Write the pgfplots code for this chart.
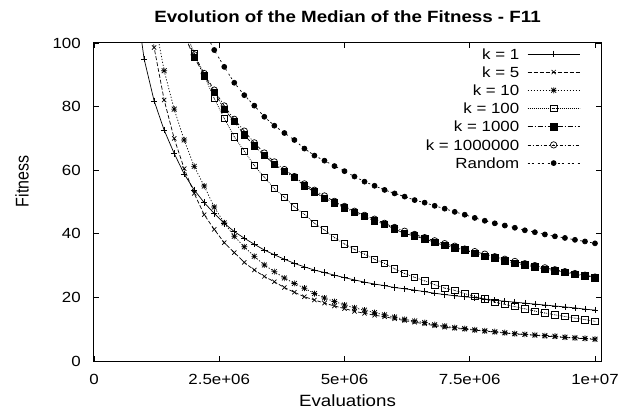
\documentclass[border=0pt]{standalone}
\usepackage{fontspec}
\setmainfont{Liberation Sans}
\newfontfamily\tfont{Liberation Sans}[FakeStretch=1.15]
\newfontfamily\yfont{Liberation Sans}[FakeStretch=0.87]
\usepackage{pgfplots}
\usepackage{pgfplotstable}
\pgfplotsset{compat=1.18}

% gnuplot-like point types
\pgfdeclareplotmark{star8}{%
  \pgfpathmoveto{\pgfqpoint{-\pgfplotmarksize}{0pt}}\pgfpathlineto{\pgfqpoint{\pgfplotmarksize}{0pt}}%
  \pgfpathmoveto{\pgfqpoint{0pt}{-\pgfplotmarksize}}\pgfpathlineto{\pgfqpoint{0pt}{\pgfplotmarksize}}%
  \pgfpathmoveto{\pgfqpoint{-.8\pgfplotmarksize}{-.8\pgfplotmarksize}}\pgfpathlineto{\pgfqpoint{.8\pgfplotmarksize}{.8\pgfplotmarksize}}%
  \pgfpathmoveto{\pgfqpoint{-.8\pgfplotmarksize}{.8\pgfplotmarksize}}\pgfpathlineto{\pgfqpoint{.8\pgfplotmarksize}{-.8\pgfplotmarksize}}%
  \pgfusepathqstroke}
\pgfdeclareplotmark{sqdot}{%
  \pgfpathrectangle{\pgfqpoint{-\pgfplotmarksize}{-\pgfplotmarksize}}{\pgfqpoint{2\pgfplotmarksize}{2\pgfplotmarksize}}%
  \pgfusepathqstroke
  \pgfpathcircle{\pgfpointorigin}{0.5pt}\pgfusepathqfill}
\pgfdeclareplotmark{circdot}{%
  \pgfpathcircle{\pgfpointorigin}{\pgfplotmarksize}\pgfusepathqstroke
  \pgfpathcircle{\pgfpointorigin}{0.5pt}\pgfusepathqfill}

% evaluations in millions, median fitness
\pgfplotstableread{
x y
0.8 118
1.0 95.0
1.2 81.8
1.4 72.6
1.6 65.3
1.8 58.8
2.0 53.8
2.2 49.8
2.4 46.4
2.6 43.3
2.8 40.7
3.0 38.6
3.2 36.7
3.4 34.9
3.6 33.4
3.8 32.0
4.0 30.7
4.2 29.6
4.4 28.6
4.6 27.8
4.8 27.0
5.0 26.2
5.2 25.5
5.4 24.8
5.6 24.2
5.8 23.7
6.0 23.1
6.2 22.7
6.4 22.3
6.6 21.8
6.8 21.3
7.0 20.9
7.2 20.5
7.4 20.2
7.6 19.9
7.8 19.5
8.0 19.1
8.2 18.8
8.4 18.5
8.6 18.2
8.8 17.9
9.0 17.6
9.2 17.3
9.4 17.0
9.6 16.7
9.8 16.3
10.0 16.0
}\kone
\pgfplotstableread{
x y
1.0 122
1.2 98.6
1.4 82.1
1.6 70.0
1.8 60.5
2.0 52.7
2.2 46.0
2.4 41.4
2.6 37.2
2.8 34.1
3.0 31.0
3.2 28.6
3.4 26.6
3.6 24.9
3.8 23.1
4.0 21.6
4.2 20.2
4.4 19.2
4.6 18.2
4.8 17.3
5.0 16.5
5.2 15.6
5.4 15.0
5.6 14.4
5.8 13.9
6.0 13.3
6.2 12.7
6.4 12.2
6.6 11.7
6.8 11.1
7.0 10.6
7.2 10.3
7.4 10.0
7.6 9.7
7.8 9.4
8.0 9.1
8.2 8.8
8.4 8.5
8.6 8.3
8.8 8.1
9.0 7.8
9.2 7.6
9.4 7.4
9.6 7.2
9.8 7.0
10.0 6.8
}\kfive
\pgfplotstableread{
x y
1.2 108
1.4 91.3
1.6 79.2
1.8 69.5
2.0 61.2
2.2 55.0
2.4 48.4
2.6 43.4
2.8 39.2
3.0 35.9
3.2 32.9
3.4 30.2
3.6 28.1
3.8 26.1
4.0 24.4
4.2 22.9
4.4 21.2
4.6 19.8
4.8 18.7
5.0 17.6
5.2 16.7
5.4 16.0
5.6 15.2
5.8 14.5
6.0 13.8
6.2 13.1
6.4 12.6
6.6 12.1
6.8 11.4
7.0 11.0
7.2 10.5
7.4 10.2
7.6 9.8
7.8 9.5
8.0 9.2
8.2 8.9
8.4 8.6
8.6 8.4
8.8 8.2
9.0 8.0
9.2 7.8
9.4 7.5
9.6 7.3
9.8 7.1
10.0 6.9
}\kten
\pgfplotstableread{
x y
1.8 105
2.0 96.8
2.2 89.6
2.4 82.6
2.6 76.3
2.8 70.5
3.0 66.0
3.2 61.5
3.4 57.8
3.6 54.2
3.8 51.5
4.0 48.5
4.2 46.1
4.4 43.3
4.6 41.2
4.8 38.8
5.0 36.8
5.2 35.1
5.4 33.6
5.6 32.0
5.8 30.7
6.0 29.0
6.2 27.5
6.4 26.3
6.6 25.2
6.8 24.0
7.0 22.9
7.2 22.2
7.4 21.2
7.6 20.3
7.8 19.5
8.0 18.5
8.2 17.8
8.4 17.1
8.6 16.4
8.8 15.7
9.0 15.1
9.2 14.5
9.4 14.0
9.6 13.5
9.8 13.0
10.0 12.5
}\khundred
\pgfplotstableread{
x y
1.8 102.5
2.0 95.5
2.2 89.9
2.4 84.5
2.6 79.2
2.8 75.3
3.0 71.1
3.2 67.6
3.4 64.6
3.6 61.9
3.8 59.6
4.0 57.7
4.2 55.1
4.4 53.2
4.6 51.2
4.8 49.7
5.0 48.2
5.2 46.8
5.4 45.4
5.6 44.1
5.8 43.0
6.0 41.5
6.2 40.1
6.4 39.3
6.6 38.4
6.8 37.3
7.0 36.3
7.2 35.6
7.4 34.9
7.6 33.9
7.8 33.0
8.0 32.4
8.2 31.5
8.4 30.8
8.6 30.2
8.8 29.6
9.0 28.9
9.2 28.4
9.4 27.9
9.6 27.3
9.8 26.8
10.0 26.2
}\kthousand
\pgfplotstableread{
x y
1.8 103
2.0 96.3
2.2 90.4
2.4 85.2
2.6 80.2
2.8 76.0
3.0 72.3
3.2 68.6
3.4 65.4
3.6 62.6
3.8 60.2
4.0 58.0
4.2 55.7
4.4 53.7
4.6 51.9
4.8 50.2
5.0 48.6
5.2 47.1
5.4 45.8
5.6 44.6
5.8 43.3
6.0 42.0
6.2 40.8
6.4 39.8
6.6 38.8
6.8 37.8
7.0 36.9
7.2 36.1
7.4 35.2
7.6 34.4
7.8 33.6
8.0 32.8
8.2 32.0
8.4 31.3
8.6 30.6
8.8 30.0
9.0 29.3
9.2 28.7
9.4 28.1
9.6 27.5
9.8 27.0
10.0 26.4
}\kmillion
\pgfplotstableread{
x y
2.2 104
2.4 97.8
2.6 92.5
2.8 87.5
3.0 83.6
3.2 80.3
3.4 76.8
3.6 74.0
3.8 71.7
4.0 69.5
4.2 66.8
4.4 64.6
4.6 63.0
4.8 61.3
5.0 59.7
5.2 58.0
5.4 56.4
5.6 55.1
5.8 53.8
6.0 52.7
6.2 51.7
6.4 50.6
6.6 49.8
6.8 48.8
7.0 47.9
7.2 46.9
7.4 46.0
7.6 45.0
7.8 44.1
8.0 43.3
8.2 42.6
8.4 41.9
8.6 41.1
8.8 40.5
9.0 39.8
9.2 39.2
9.4 38.7
9.6 38.1
9.8 37.6
10.0 37.0
}\krandom

\begin{document}
\begin{tikzpicture}
\useasboundingbox (-94bp,-52bp) rectangle (527bp,361bp);
\begin{axis}[
  at={(0,0)}, anchor=south west,
  scale only axis, width=507bp, height=318bp,
  xmin=0, xmax=10.12, ymin=0, ymax=100,
  xtick={0,2.5,5,7.5,10},
  xticklabels={0,2.5e+06,5e+06,7.5e+06,1e+07},
  ytick={0,20,40,60,80,100},
  tick align=inside, major tick length=5bp,
  axis line style={line width=1bp},
  every tick/.style={black, line width=0.7bp},
  /pgf/number format/assume math mode=true,
  tick label style={font=\tfont\fontsize{14.7bp}{17bp}\selectfont},
  yticklabel style={anchor=east, inner sep=0pt, xshift=-13bp},
  xticklabel style={anchor=north, inner sep=0pt, yshift=-13bp},
  title={Evolution of the Median of the Fitness - F11},
  every axis title/.style={font=\tfont\fontsize{16.3bp}{19bp}\selectfont\bfseries,
    at={(axis description cs:0.5,1)}, anchor=base, yshift=20bp, inner sep=0pt},
  xlabel={Evaluations},
  every axis x label/.style={font=\tfont\fontsize{16.3bp}{19bp}\selectfont,
    at={(axis description cs:0.5,0)}, anchor=base, yshift=-45bp, inner sep=0pt},
  ylabel={Fitness},
  every axis y label/.style={font=\yfont\fontsize{18.4bp}{20bp}\selectfont,
    at={(axis description cs:-0.142,0.5645)}, rotate=90, anchor=center, inner sep=0pt},
  legend cell align=right, legend plot pos=right,
  legend style={at={(1,1)}, anchor=north east, xshift=-21bp, yshift=-5.6bp,
    draw=none, fill=none, inner sep=0pt, outer sep=0pt,
    font=\tfont\fontsize{14.7bp}{17bp}\selectfont,
    column sep=8bp, row sep=7.6bp,
    nodes={inner sep=0pt, text height=10.6bp, text depth=0bp}},
  legend image code/.code={%
    \draw[mark repeat=2,mark phase=2,#1] plot coordinates {(0bp,0bp) (26bp,0bp) (52bp,0bp)};},
  every axis plot/.append style={black, line width=0.7bp},
]
\addplot[solid, mark=+, mark size=3.2bp, mark options={solid}] table {\kone};
\addlegendentry{k = 1}
\addplot[dash pattern=on 4bp off 2bp, mark=x, mark size=3bp, mark options={solid}] table {\kfive};
\addlegendentry{k = 5}
\addplot[dash pattern=on 1.2bp off 1.8bp, mark=star8, mark size=3bp, mark options={solid}] table {\kten};
\addlegendentry{k = 10}
\addplot[dash pattern=on 0.8bp off 1.2bp, mark=sqdot, mark size=3.2bp, mark options={solid}] table {\khundred};
\addlegendentry{k = 100}
\addplot[dash pattern=on 5bp off 2bp on 1bp off 2bp, mark=square*, mark size=3.2bp, mark options={solid}] table {\kthousand};
\addlegendentry{k = 1000}
\addplot[dash pattern=on 3bp off 2bp on 1bp off 2bp, mark=circdot, mark size=3.2bp, mark options={solid}] table {\kmillion};
\addlegendentry{k = 1000000}
\addplot[dash pattern=on 2bp off 2bp on 2bp off 4bp, mark=*, mark size=2.5bp, mark options={solid}] table {\krandom};
\addlegendentry{Random}
\end{axis}
\end{tikzpicture}
\end{document}
